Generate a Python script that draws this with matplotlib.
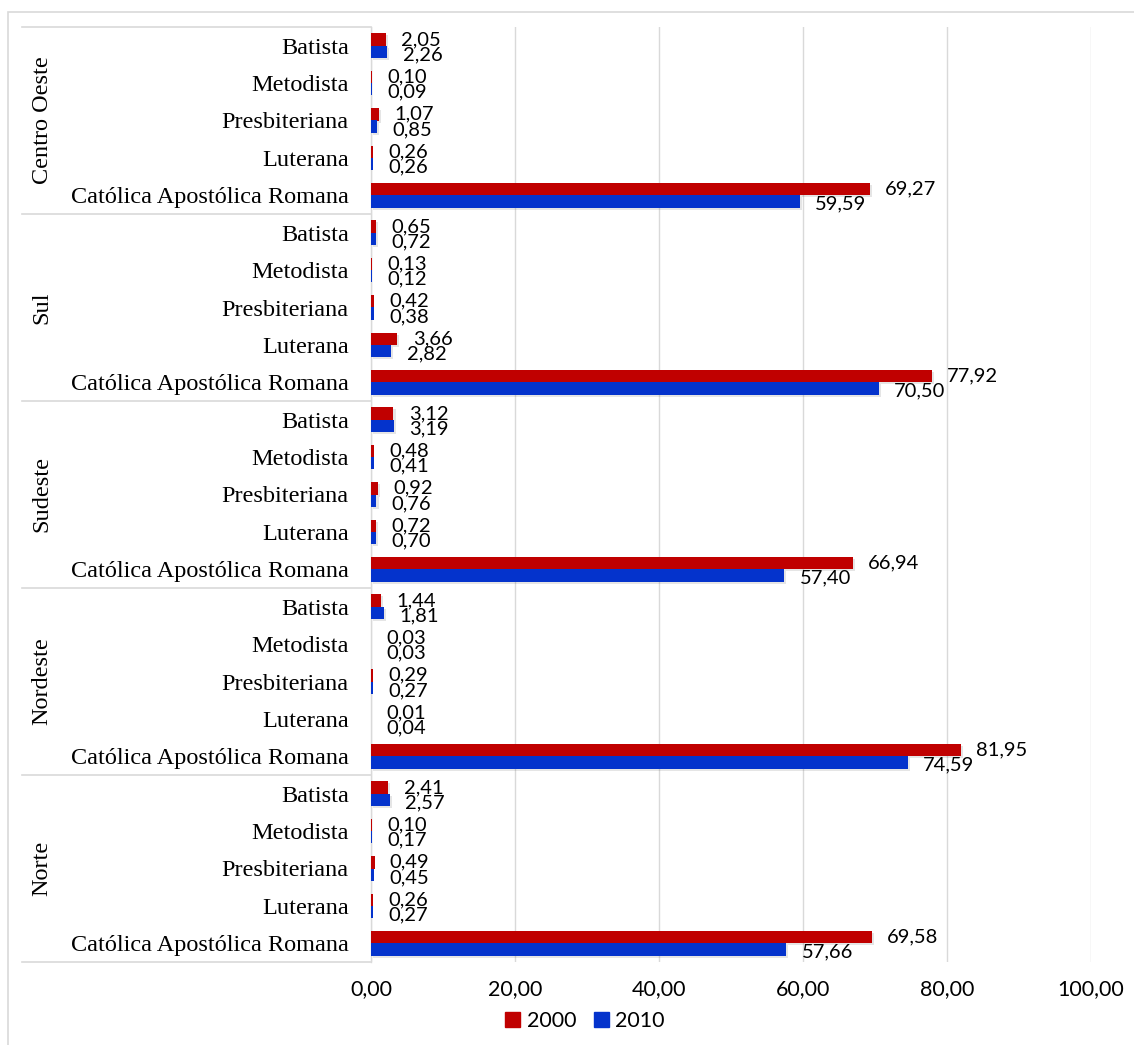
import matplotlib
matplotlib.use("Agg")
import matplotlib.pyplot as plt
import matplotlib.patheffects as pe
from matplotlib.lines import Line2D
from matplotlib.patches import Rectangle
from matplotlib.transforms import blended_transform_factory

# Regions from top to bottom, denominations from top to bottom within each region
regions = ["Centro Oeste", "Sul", "Sudeste", "Nordeste", "Norte"]
denominations = ["Batista", "Metodista", "Presbiteriana", "Luterana", "Católica Apostólica Romana"]
series_names = ["2000", "2010"]

values_2000 = {
    "Centro Oeste": [2.05, 0.10, 1.07, 0.26, 69.27],
    "Sul":          [0.65, 0.13, 0.42, 3.66, 77.92],
    "Sudeste":      [3.12, 0.48, 0.92, 0.72, 66.94],
    "Nordeste":     [1.44, 0.03, 0.29, 0.01, 81.95],
    "Norte":        [2.41, 0.10, 0.49, 0.26, 69.58],
}
values_2010 = {
    "Centro Oeste": [2.26, 0.09, 0.85, 0.26, 59.59],
    "Sul":          [0.72, 0.12, 0.38, 2.82, 70.50],
    "Sudeste":      [3.19, 0.41, 0.76, 0.70, 57.40],
    "Nordeste":     [1.81, 0.03, 0.27, 0.04, 74.59],
    "Norte":        [2.57, 0.17, 0.45, 0.27, 57.66],
}
x_ticks = [0, 20, 40, 60, 80, 100]

RED = "#C00000"
BLUE = "#0433CC"
GRID = "#D9D9D9"
SERIF = ["Liberation Serif", "DejaVu Serif"]
SANS = ["Lato", "DejaVu Sans"]

W, H = 1134, 1045
fig = plt.figure(figsize=(W / 100, H / 100), dpi=100)
ax = fig.add_axes([371 / W, 1 - 962 / H, 720 / W, 935 / H])

n_den = len(denominations)
n_reg = len(regions)
bh = 0.33
shadow = [pe.SimplePatchShadow(offset=(1.5, -1.5), alpha=0.15, shadow_rgbFace="#555555"), pe.Normal()]

fmt = lambda v: f"{v:.2f}".replace(".", ",")

yticks, ylabels = [], []
for ri, reg in enumerate(regions):
    base = (n_reg - 1 - ri) * n_den
    for di, den in enumerate(denominations):
        y = base + (n_den - 1 - di)
        yticks.append(y)
        ylabels.append(den)
        v0 = values_2000[reg][di]
        v1 = values_2010[reg][di]
        b0 = ax.barh(y + bh / 2, v0, height=bh, color=RED, zorder=3, linewidth=0)
        b1 = ax.barh(y - bh / 2, v1, height=bh, color=BLUE, zorder=3, linewidth=0)
        for b, v in ((b0[0], v0), (b1[0], v1)):
            if v >= 0.5:
                b.set_path_effects(shadow)
        ax.annotate(fmt(v0), (v0, y + bh / 2), xytext=(11, 0), textcoords="offset points",
                    ha="left", va="center", fontsize=14.5, family=SANS, zorder=5)
        ax.annotate(fmt(v1), (v1, y - bh / 2), xytext=(11, -2), textcoords="offset points",
                    ha="left", va="center", fontsize=14.5, family=SANS, zorder=5)

ax.set_xlim(0, 100)
ax.set_ylim(-0.5, n_reg * n_den - 0.5)
ax.set_xticks(x_ticks)
ax.set_xticklabels([fmt(t) for t in x_ticks], family=SANS, fontsize=15.5)
ax.set_yticks(yticks)
ax.set_yticklabels(ylabels, family=SANS, fontsize=17.5)
for t in ax.get_yticklabels():
    t.set_family(SERIF)
ax.tick_params(axis="both", length=0)
ax.tick_params(axis="x", pad=12)
ax.tick_params(axis="y", pad=16)
ax.grid(axis="x", color=GRID, linewidth=1, zorder=0)
for s in ["top", "right", "bottom"]:
    ax.spines[s].set_visible(False)
ax.spines["left"].set_color(GRID)
ax.spines["left"].set_linewidth(1)

# Region separators and region labels
tr = blended_transform_factory(fig.transFigure, ax.transData)
for k in range(n_reg + 1):
    yy = k * n_den - 0.5
    fig.add_artist(Line2D([22 / W, 371 / W], [yy, yy], transform=tr, color=GRID, linewidth=1.2))
for ri, reg in enumerate(regions):
    base = (n_reg - 1 - ri) * n_den
    fig.text(42 / W, 0, reg, transform=tr, rotation=90, ha="center", va="center",
             fontsize=17.5, family=SERIF).set_y(base + (n_den - 1) / 2)

# Outer border
fig.add_artist(Rectangle((8 / W, -0.01), 1.0, 1 - 12 / H + 0.01, transform=fig.transFigure,
                         fill=False, edgecolor="#D9D9D9", linewidth=1.2))

handles = [Rectangle((0, 0), 1, 1, color=RED), Rectangle((0, 0), 1, 1, color=BLUE)]
fig.legend(handles, series_names, loc="center", bbox_to_anchor=(585 / W, 1 - 1021 / H),
           ncol=2, frameon=False, prop={"family": SANS, "size": 15.5},
           handlelength=0.7, handleheight=0.7, handletextpad=0.3, columnspacing=0.8)

fig.savefig("out.png", dpi=100)
